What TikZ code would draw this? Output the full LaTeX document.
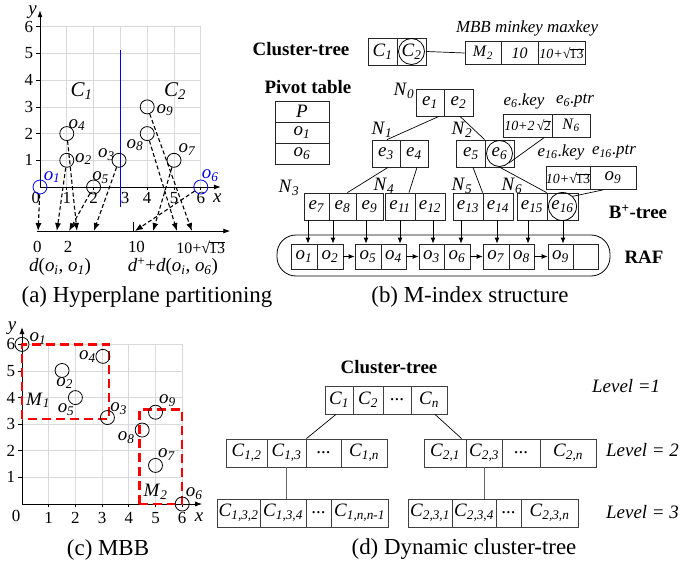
\documentclass[tikz,border=0pt]{standalone}
\usepackage{fontspec}
\setmainfont{Liberation Serif}
\usetikzlibrary{arrows.meta,calc}
\newcommand{\vv}[2]{\textit{#1}\textsubscript{\textit{#2}}}
\newsavebox\rtbox
\newcommand{\rt}[1]{\sbox\rtbox{#1}√\kern-0.06em\rlap{\rule[0.66em]{\wd\rtbox}{0.05em}}\usebox\rtbox}
\begin{document}
\begin{tikzpicture}[x=1bp,y=-1bp,
  every node/.style={inner sep=0pt},
  F/.style={font=\fontsize{19}{21}\selectfont},
  Fl/.style={font=\fontsize{17}{19}\selectfont},
  Ft/.style={font=\fontsize{17}{19}\selectfont},
  Fs/.style={font=\fontsize{16}{18}\selectfont},
  Fxs/.style={font=\fontsize{14}{16}\selectfont},
  Fcap/.style={font=\fontsize{23}{25}\selectfont},
  Fb/.style={font=\fontsize{19}{21}\selectfont\bfseries},
  cell/.style={draw=black!85, line width=0.8bp, F},
  dcell/.style={draw=black!75, line width=0.8bp, F, minimum height=28bp},
  gridc/.style={draw=black!15, line width=0.7bp},
  axisl/.style={line width=0.9bp, -{Latex[length=7bp,width=5bp]}},
  pt/.style={circle, draw, line width=0.8bp, minimum size=14bp},
  darr/.style={dash pattern=on 4bp off 2.5bp, line width=1.1bp, -{Latex[length=8bp,width=6bp]}},
  sarr/.style={line width=0.8bp, -{Latex[length=6bp,width=5bp]}},
  edgel/.style={line width=0.7bp},
  redbox/.style={draw=red, line width=2.5bp, dash pattern=on 9bp off 5bp},
]
\useasboundingbox (0,0) rectangle (689,568);

% ================= (a) =================
\begin{scope}[shift={(40,187)}, x=26.8bp, y=26.7bp]
  \foreach \i in {1,...,6} {
    \draw[gridc] (\i,0) -- (\i,6);
    \draw[gridc] (0,\i) -- (6,\i);
  }
  \draw[axisl] (0,0) -- (0,6.62);
  \draw[axisl] (0,0) -- (6.75,0);
  \foreach \i in {1,...,6} {
    \draw[line width=0.7bp] (-0.15,\i) -- (0,\i);
    \node[Ft] (ay\i) at (-0.42,\i) {\i};
  }
  \foreach \i in {1,2,4,5,6} {
    \draw[line width=0.7bp] (\i,0) -- (\i,-0.12);
    \node[Ft] (ax\i) at (\i,-0.42) {\i};
  }
  \node[Ft] (ax0) at (-0.15,-0.42) {0};
  \node[Ft] (ax3) at (3.18,-0.42) {3};
  \node[F] (aylab) at (-0.28,6.55) {\textit{y}};
  \node[F] (axlab) at (6.62,-0.42) {\textit{x}};
  \draw[blue, line width=1.5bp] (3,5.13) -- (3,-0.75);

  \node[pt, draw=blue] (a1) at (0,0) {};
  \node[pt] (a2) at (1,1) {};
  \node[pt] (a3) at (2.95,1) {};
  \node[pt] (a4) at (1,2) {};
  \node[pt] (a5) at (2,0) {};
  \node[pt, draw=blue] (a6) at (6,0) {};
  \node[pt] (a7) at (5,1) {};
  \node[pt] (a8) at (4,2) {};
  \node[pt] (a9) at (4,3) {};
  \node[F, text=blue] (la1) at (0.45,0.37) {\vv{o}{1}};
  \node[F] (la2) at (1.62,1.05) {\vv{o}{2}};
  \node[F] (la3) at (2.48,1.2) {\vv{o}{3}};
  \node[F] (la4) at (1.38,2.32) {\vv{o}{4}};
  \node[F] (la5) at (2.26,0.36) {\vv{o}{5}};
  \node[F, text=blue] (la6) at (6.35,0.42) {\vv{o}{6}};
  \node[F] (la7) at (5.49,1.39) {\vv{o}{7}};
  \node[F] (la8) at (3.54,1.57) {\vv{o}{8}};
  \node[F] (la9) at (4.66,2.88) {\vv{o}{9}};
  \node[font=\fontsize{21}{23}\selectfont] (lC1) at (1.55,3.6) {\vv{C}{1}};
  \node[font=\fontsize{21}{23}\selectfont] (lC2) at (5.04,3.6) {\vv{C}{2}};

  % lower axis
  \coordinate (lx0) at (-0.12,-1.65);
  \coordinate (lx1) at (7.1,-1.65);
  \draw[axisl] (lx0) -- (lx1);
  \draw[line width=0.8bp] (3.47,-1.65) -- (3.47,-1.31);
  \coordinate (t1) at (-0.07,-1.65);
  \coordinate (t2) at (0.63,-1.65);
  \coordinate (t4) at (1.38,-1.65);
  \coordinate (t5) at (1.08,-1.65);
  \coordinate (t3) at (2.01,-1.65);
  \coordinate (t6) at (3.54,-1.65);
  \coordinate (t7) at (4.22,-1.65);
  \coordinate (t8) at (5.11,-1.65);
  \coordinate (t9) at (5.67,-1.65);
  \foreach \k in {1,...,9} { \draw[darr] (a\k) -- (t\k); }
  \node[Ft] (lb0) at (-0.1,-2.25) {0};
  \node[Ft] (lb2) at (1.05,-2.25) {2};
  \node[Ft] (lb10) at (3.6,-2.25) {10};
  \node[Fs] (lb13) at (6.0,-2.25) {10+\rt{13}};
  \node[F] (dl1) at (0.75,-3.0) {\textit{d}(\vv{o}{i}, \vv{o}{1})};
  \node[F] (dl2) at (4.96,-3.0) {\textit{d}\textsuperscript{+}+\textit{d}(\vv{o}{i}, \vv{o}{6})};
\end{scope}
\node[Fcap] (capa) at (147,297) {(a) Hyperplane partitioning};

% ================= (b) =================
\node[Fb] (ctl) at (301,49) {Cluster-tree};
\node[cell, minimum width=29bp, minimum height=27bp] (C1) at (382.5,51.5) {\vv{C}{1}};
\node[cell, minimum width=29bp, minimum height=27bp] (C2) at (411.5,51.5) {\vv{C}{2}};
\node[circle, draw, line width=0.8bp, minimum size=26bp] (C2c) at (C2) {};
\node[cell, Fs, minimum width=36bp, minimum height=23bp] (mbbM) at (483,53) {\vv{M}{2}};
\node[cell, Fs, minimum width=37bp, minimum height=23bp] (mbbmin) at (519.5,53) {\textit{10}};
\node[cell, Fxs, minimum width=47bp, minimum height=23bp] (mbbmax) at (561.5,53) {\textit{10+}\rt{13}};
\draw[edgel] (C2.east) -- (mbbM.west);
\node[Fl] (mbblab) at (527,28) {\textit{MBB minkey maxkey}};

\node[Fb] (pvl) at (308,87) {Pivot table};
\node[cell, minimum width=54bp, minimum height=21bp] (pP) at (302,111.5) {\textit{P}};
\node[cell, minimum width=54bp, minimum height=21bp] (p1) at (302,132.5) {\vv{o}{1}};
\node[cell, minimum width=54bp, minimum height=21bp] (p6) at (302,153.5) {\vv{o}{6}};

% internal nodes
\node[cell, minimum width=28bp, minimum height=27bp] (e1) at (430,102.5) {\vv{e}{1}};
\node[cell, minimum width=29bp, minimum height=27bp] (e2) at (458.5,102.5) {\vv{e}{2}};
\node[cell, minimum width=28bp, minimum height=27bp] (e3) at (386,153.5) {\vv{e}{3}};
\node[cell, minimum width=28bp, minimum height=27bp] (e4) at (414,153.5) {\vv{e}{4}};
\node[cell, minimum width=29bp, minimum height=27bp] (e5) at (471,153.5) {\vv{e}{5}};
\node[cell, minimum width=29bp, minimum height=27bp] (e6) at (499.5,153.5) {\vv{e}{6}};
\node[circle, draw, line width=0.8bp, minimum size=26bp] (e6c) at (e6) {};
\node[F] (lN0) at (404,91) {\vv{N}{0}};
\node[F] (lN1) at (382,130) {\vv{N}{1}};
\node[F] (lN2) at (462,130) {\vv{N}{2}};

% e6 info
\node[Fl] (e6k) at (524,101) {\vv{e}{6}.\textit{key}};
\node[Fl] (e6p) at (575,101) {\vv{e}{6}.\textit{ptr}};
\node[cell, Fxs, minimum width=49bp, minimum height=23bp] (e6b1) at (527.5,125.5) {\textit{10+2}\,\rt{2}};
\node[cell, Fs, minimum width=38bp, minimum height=23bp] (e6b2) at (571,125.5) {\vv{N}{6}};
% e16 info
\node[Fl] (e16k) at (561,152) {\vv{e}{16}.\textit{key}};
\node[Fl] (e16p) at (614,152) {\vv{e}{16}.\textit{ptr}};
\node[cell, Fxs, minimum width=44bp, minimum height=23bp] (e16b1) at (568,178) {\textit{10+}\rt{13}};
\node[cell, minimum width=46bp, minimum height=23bp] (e16b2) at (613,178) {\vv{o}{9}};

% leaves
\node[cell, minimum width=25bp, minimum height=27bp] (e7) at (316.5,206.5) {\vv{e}{7}};
\node[cell, minimum width=27bp, minimum height=27bp] (e8) at (342.5,206.5) {\vv{e}{8}};
\node[cell, minimum width=27bp, minimum height=27bp] (e9) at (369.5,206.5) {\vv{e}{9}};
\node[cell, minimum width=30bp, minimum height=27bp] (e11) at (400,206.5) {\vv{e}{11}};
\node[cell, minimum width=30bp, minimum height=27bp] (e12) at (430,206.5) {\vv{e}{12}};
\node[cell, minimum width=30bp, minimum height=27bp] (e13) at (468,206.5) {\vv{e}{13}};
\node[cell, minimum width=30bp, minimum height=27bp] (e14) at (498,206.5) {\vv{e}{14}};
\node[cell, minimum width=30bp, minimum height=27bp] (e15) at (532,206.5) {\vv{e}{15}};
\node[cell, minimum width=31bp, minimum height=27bp] (e16) at (562.5,206.5) {\vv{e}{16}};
\node[circle, draw, line width=0.8bp, minimum size=28bp] (e16c) at (e16) {};
\node[F] (lN3) at (289,188) {\vv{N}{3}};
\node[F] (lN4) at (384,186) {\vv{N}{4}};
\node[F] (lN5) at (462,186) {\vv{N}{5}};
\node[F] (lN6) at (512,186) {\vv{N}{6}};

% tree edges
\draw[edgel] ([xshift=9bp]e1.south) -- ([xshift=1bp]e3.north);
\draw[edgel] ([xshift=1.5bp]e2.south) -- (e6.north west);
\draw[edgel] ([xshift=2bp]e3.south) -- ([xshift=-9bp]e8.north east);
\draw[edgel] ([xshift=3bp]e4.south) -- ([xshift=9bp]e11.north);
\draw[edgel] ([xshift=2bp]e5.south) -- (e14.north west);
\draw[edgel] ([xshift=0.5bp]e6.south) -- (e16.north west);
\draw[edgel] (e6c.south east) -- ([xshift=-8bp]e6b1.south east);
\draw[edgel] (e16c.north east) -- ([xshift=-10bp]e16b2.south);

% RAF
\draw[line width=0.8bp, rounded corners=19bp] (277,235) rectangle (610,276);
\node[cell, minimum width=26bp, minimum height=25bp] (r1) at (304,256.5) {\vv{o}{1}};
\node[cell, minimum width=26bp, minimum height=25bp] (r2) at (330,256.5) {\vv{o}{2}};
\node[cell, minimum width=26bp, minimum height=25bp] (r5) at (368,256.5) {\vv{o}{5}};
\node[cell, minimum width=25bp, minimum height=25bp] (r4) at (393.5,256.5) {\vv{o}{4}};
\node[cell, minimum width=25bp, minimum height=25bp] (r3) at (431.5,256.5) {\vv{o}{3}};
\node[cell, minimum width=26bp, minimum height=25bp] (r6) at (457,256.5) {\vv{o}{6}};
\node[cell, minimum width=26bp, minimum height=25bp] (r7) at (496,256.5) {\vv{o}{7}};
\node[cell, minimum width=25bp, minimum height=25bp] (r8) at (521.5,256.5) {\vv{o}{8}};
\node[cell, minimum width=25bp, minimum height=25bp] (r9) at (560.5,256.5) {\vv{o}{9}};
\node[cell, minimum width=25bp, minimum height=25bp] (r0) at (585.5,256.5) {};
\draw[sarr] (r2.east) -- (r5.west);
\draw[sarr] (r4.east) -- (r3.west);
\draw[sarr] (r6.east) -- (r7.west);
\draw[sarr] (r8.east) -- (r9.west);
\draw[sarr] (e7.south -| 308,0) -- (r1.north -| 308,0);
\draw[sarr] (e8.south -| 333,0) -- (r2.north -| 333,0);
\draw[sarr] (e9.south -| 366,0) -- (r5.north -| 366,0);
\draw[sarr] (e11.south -| 400,0) -- (r4.north -| 400,0);
\draw[sarr] (e12.south -| 433,0) -- (r3.north -| 433,0);
\draw[sarr] (e13.south -| 461,0) -- (r6.north -| 461,0);
\draw[sarr] (e14.south -| 497,0) -- (r7.north -| 497,0);
\draw[sarr] (e15.south -| 528,0) -- (r8.north -| 528,0);
\draw[sarr] (e16.south -| 563,0) -- (r9.north -| 563,0);
\node[Fb] (lbt) at (638,212) {B\textsuperscript{+}-tree};
\node[Fb] (lraf) at (644,257) {RAF};
\node[Fcap] (capb) at (470,297) {(b) M-index structure};

% ================= (c) =================
\begin{scope}[shift={(22,504)}, x=26.7bp, y=26.6bp]
  \foreach \i in {1,...,6} {
    \draw[gridc] (\i,0) -- (\i,6);
    \draw[gridc] (0,\i) -- (6,\i);
  }
  \draw[axisl] (0,0) -- (0,6.65);
  \draw[axisl] (0,0) -- (6.75,0);
  \foreach \i in {1,...,6} {
    \draw[line width=0.7bp] (-0.15,\i) -- (0,\i);
    \draw[line width=0.7bp] (\i,0) -- (\i,-0.12);
    \node[Ft] (cy\i) at (-0.42,\i) {\i};
    \node[Ft] (cx\i) at (\i,-0.52) {\i};
  }
  \node[Ft] (cx0) at (-0.22,-0.45) {0};
  \node[F] (cylab) at (-0.37,6.6) {\textit{y}};
  \node[F] (cxlab) at (6.63,-0.5) {\textit{x}};
  \draw[redbox] (0,3.2) rectangle (3.25,6);
  \draw[redbox] (4.4,0) rectangle (6.0,3.55);
  \node[pt] (c1) at (0,6) {};
  \node[pt] (c2) at (1.5,5.02) {};
  \node[pt] (c3) at (3.2,3.25) {};
  \node[pt] (c4) at (3.03,5.55) {};
  \node[pt] (c5) at (2.0,4.0) {};
  \node[pt] (c6) at (6,0) {};
  \node[pt] (c7) at (5.0,1.45) {};
  \node[pt] (c8) at (4.5,2.78) {};
  \node[pt] (c9) at (5.0,3.45) {};
  \node[F] (lc1) at (0.6,6.22) {\vv{o}{1}};
  \node[F] (lc2) at (1.6,4.55) {\vv{o}{2}};
  \node[F] (lc3) at (3.62,3.6) {\vv{o}{3}};
  \node[F] (lc4) at (2.45,5.55) {\vv{o}{4}};
  \node[F] (lc5) at (1.65,3.55) {\vv{o}{5}};
  \node[F] (lc6) at (6.45,0.4) {\vv{o}{6}};
  \node[F] (lc7) at (5.42,1.85) {\vv{o}{7}};
  \node[F] (lc8) at (3.9,2.5) {\vv{o}{8}};
  \node[F] (lc9) at (5.45,3.9) {\vv{o}{9}};
  \node[F] (lM1) at (0.6,3.9) {\vv{M}{1}};
  \node[F] (lM2) at (5.0,0.45) {\vv{M}{2}};
\end{scope}
\node[Fcap] (capc) at (108,550) {(c) MBB};

% ================= (d) =================
\node[Fb] (dct) at (389,367) {Cluster-tree};
\node[dcell, minimum width=28bp] (d11) at (339,400) {\vv{C}{1}};
\node[dcell, minimum width=30bp] (d12) at (368,400) {\vv{C}{2}};
\node[dcell, minimum width=28bp] (d13) at (397,400) {...};
\node[dcell, minimum width=36bp] (d14) at (429,400) {\vv{C}{n}};

\node[dcell, minimum width=41bp] (d21) at (246.5,453) {\vv{C}{1,2}};
\node[dcell, minimum width=39bp] (d22) at (286.5,453) {\vv{C}{1,3}};
\node[dcell, minimum width=35bp] (d23) at (323.5,453) {...};
\node[dcell, minimum width=46bp] (d24) at (364,453) {\vv{C}{1,n}};
\node[dcell, minimum width=42bp] (d25) at (445,453) {\vv{C}{2,1}};
\node[dcell, minimum width=36bp] (d26) at (484,453) {\vv{C}{2,3}};
\node[dcell, minimum width=38bp] (d27) at (521,453) {...};
\node[dcell, minimum width=56bp] (d28) at (568,453) {\vv{C}{2,n}};

\node[dcell, minimum width=43bp] (d31) at (238.5,513) {\vv{C}{1,3,2}};
\node[dcell, minimum width=46bp] (d32) at (283,513) {\vv{C}{1,3,4}};
\node[dcell, minimum width=25bp] (d33) at (318.5,513) {...};
\node[dcell, minimum width=57bp] (d34) at (359.5,513) {\vv{C}{1,n,n-1}};
\node[dcell, minimum width=44bp] (d35) at (430,513) {\vv{C}{2,3,1}};
\node[dcell, minimum width=44bp] (d36) at (474,513) {\vv{C}{2,3,4}};
\node[dcell, minimum width=25bp] (d37) at (508.5,513) {...};
\node[dcell, minimum width=57bp] (d38) at (549.5,513) {\vv{C}{2,3,n}};

\draw[edgel] ([xshift=-3bp]d11.south) -- (d22.north east);
\draw[edgel] ([xshift=6bp]d14.south) -- ([xshift=-4bp]d26.north west);
\draw[edgel, draw=black!60, line width=1bp] (d22.south) -- (d22.south |- d32.north);
\draw[edgel, draw=black!60, line width=1bp] (d26.south) -- (d26.south |- d36.north);

\node[F, anchor=west] (lv1) at (592,386) {\textit{Level =1}};
\node[F, anchor=west] (lv2) at (606,450) {\textit{Level = 2}};
\node[F, anchor=west] (lv3) at (606,512) {\textit{Level = 3}};
\node[Fcap] (capd) at (464,549) {(d) Dynamic cluster-tree};
\end{tikzpicture}
\end{document}
